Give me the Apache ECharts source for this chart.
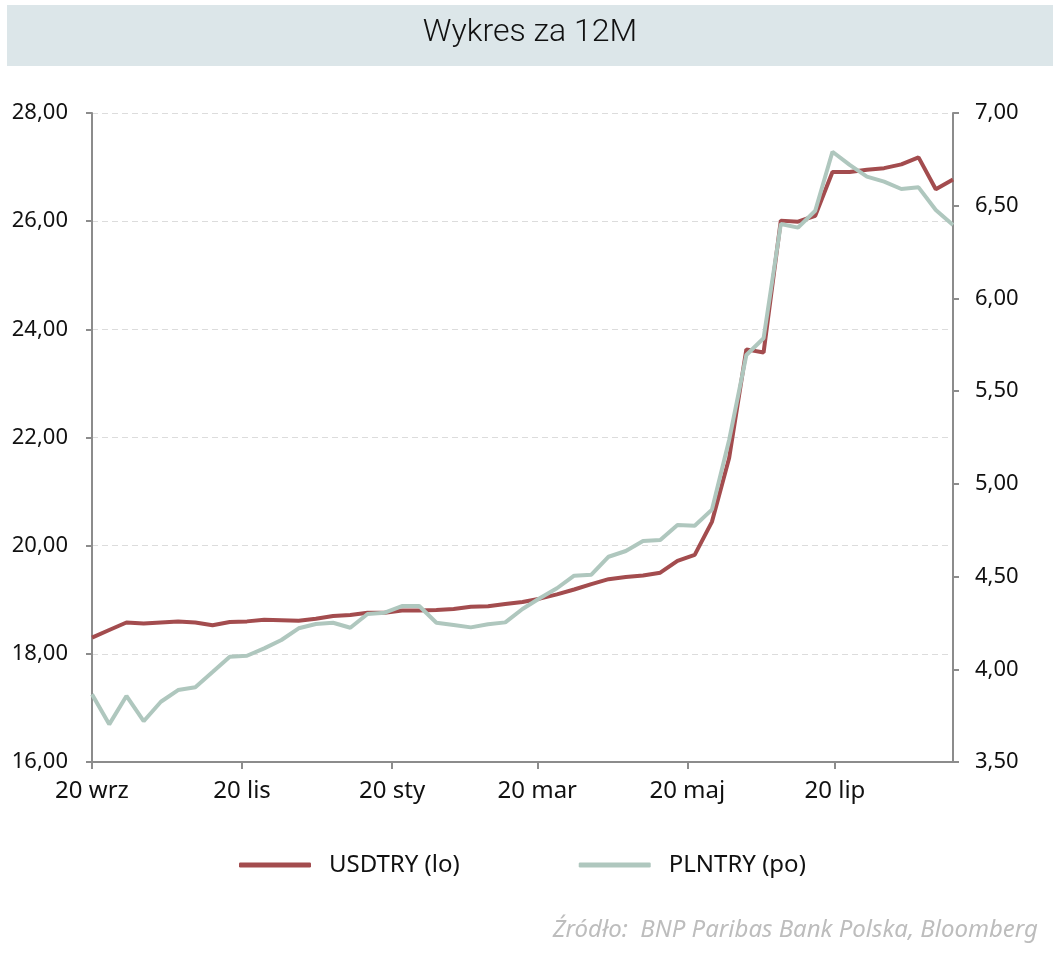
<!DOCTYPE html>
<html>
<head>
<meta charset="utf-8">
<script src="https://cdn.jsdelivr.net/npm/echarts@6/dist/echarts.min.js"></script>
<style>
html,body{margin:0;padding:0;background:#fff;}
#chart{width:1058px;height:956px;}
</style>
</head>
<body>
<div id="chart"></div>
<script>
const dates = ['2023-09-20','2023-09-27','2023-10-04','2023-10-11','2023-10-18','2023-10-25','2023-11-01','2023-11-08','2023-11-15','2023-11-22','2023-11-29','2023-12-06','2023-12-13','2023-12-20','2023-12-27','2024-01-03','2024-01-10','2024-01-17','2024-01-24','2024-01-31','2024-02-07','2024-02-14','2024-02-21','2024-02-28','2024-03-06','2024-03-13','2024-03-20','2024-03-27','2024-04-03','2024-04-10','2024-04-17','2024-04-24','2024-05-01','2024-05-08','2024-05-15','2024-05-22','2024-05-29','2024-06-05','2024-06-12','2024-06-19','2024-06-26','2024-07-03','2024-07-10','2024-07-17','2024-07-24','2024-07-31','2024-08-07','2024-08-14','2024-08-21','2024-08-28','2024-09-04'];
const usdtry = [18.30,18.44,18.58,18.56,18.58,18.60,18.58,18.53,18.59,18.60,18.63,18.62,18.61,18.65,18.70,18.72,18.76,18.76,18.80,18.80,18.81,18.83,18.87,18.88,18.92,18.96,19.02,19.10,19.19,19.29,19.38,19.42,19.45,19.50,19.72,19.83,20.44,21.62,23.63,23.57,26.01,25.99,26.10,26.91,26.91,26.95,26.98,27.05,27.18,26.59,26.77];
const plntry = [3.865,3.703,3.856,3.720,3.825,3.888,3.903,3.985,4.068,4.073,4.113,4.158,4.221,4.244,4.251,4.224,4.298,4.305,4.341,4.341,4.251,4.239,4.226,4.243,4.253,4.325,4.383,4.437,4.505,4.510,4.607,4.638,4.692,4.697,4.778,4.774,4.861,5.237,5.695,5.785,6.401,6.382,6.473,6.791,6.720,6.657,6.630,6.590,6.599,6.477,6.396];
const tickDays = [0,61,122,181,242,302];
const tickLabels = ['20 wrz','20 lis','20 sty','20 mar','20 maj','20 lip'];
const seriesNames = ['USDTRY (lo)','PLNTRY (po)'];
const titleText = 'Wykres za 12M';
const sourceText = 'Źródło:  BNP Paribas Bank Polska, Bloomberg';

const DAY = 86400000;
const t0 = Date.parse(dates[0]);
const xs = dates.map(d => Math.round((Date.parse(d) - t0) / DAY));
const xMax = xs[xs.length - 1];
const fmt = v => v.toFixed(2).replace('.', ',');
const FONT = "'Noto Sans', 'Open Sans', sans-serif";
const axisCol = '#8c8c8c';

const chart = echarts.init(document.getElementById('chart'), null, {renderer: 'canvas'});
chart.setOption({
  animation: false,
  backgroundColor: '#ffffff',
  graphic: [
    {type: 'rect', left: 7, top: 5, shape: {width: 1046, height: 61}, style: {fill: '#dce6e9'}, silent: true},
    {type: 'text', x: 530, y: 33, style: {text: titleText, align: 'center', verticalAlign: 'middle', fontSize: 32, fontFamily: "'Roboto', sans-serif", fontWeight: 300, fill: '#111'}},
    {type: 'text', x: 1038, y: 930, style: {text: sourceText, align: 'right', verticalAlign: 'middle', fontSize: 24, fontStyle: 'italic', fontFamily: FONT, fill: '#bdbdbd'}}
  ],
  grid: {left: 92, right: 105, top: 113, bottom: 194, containLabel: false},
  legend: {
    left: 234, top: 848,
    itemWidth: 72, itemHeight: 5, itemGap: 119,
    icon: 'roundRect',
    textStyle: {fontSize: 24, fontFamily: FONT, color: '#111', padding: [0, 0, 0, 13]},
    data: seriesNames
  },
  xAxis: {
    type: 'value', min: 0, max: xMax,
    axisLine: {show: true, lineStyle: {color: axisCol, width: 2}},
    axisTick: {show: true, length: 7, lineStyle: {color: axisCol, width: 2}, customValues: tickDays},
    axisLabel: {customValues: tickDays, margin: 17, fontSize: 24, fontFamily: FONT, color: '#111',
      formatter: v => { const k = tickDays.indexOf(Math.round(v)); return k >= 0 ? tickLabels[k] : ''; }},
    splitLine: {show: false}
  },
  yAxis: [
    {
      type: 'value', min: 16, max: 28, interval: 2, position: 'left',
      axisLine: {show: true, lineStyle: {color: axisCol, width: 2}},
      axisTick: {show: true, length: 6, lineStyle: {color: axisCol, width: 2}},
      axisLabel: {margin: 24, fontSize: 22, fontFamily: FONT, color: '#111', formatter: fmt},
      splitLine: {show: true, lineStyle: {color: '#dcdcdc', type: [6, 4], width: 1}}
    },
    {
      type: 'value', min: 3.5, max: 7, interval: 0.5, position: 'right',
      axisLine: {show: true, lineStyle: {color: axisCol, width: 2}},
      axisTick: {show: true, length: 6, lineStyle: {color: axisCol, width: 2}},
      axisLabel: {margin: 22, fontSize: 22, fontFamily: FONT, color: '#111', formatter: fmt},
      splitLine: {show: false}
    }
  ],
  series: [
    {name: seriesNames[0], type: 'line', yAxisIndex: 0, symbol: 'none',
     data: xs.map((x, i) => [x, usdtry[i]]),
     itemStyle: {color: '#a34c4e'}, lineStyle: {color: '#a34c4e', width: 4}},
    {name: seriesNames[1], type: 'line', yAxisIndex: 1, symbol: 'none',
     data: xs.map((x, i) => [x, plntry[i]]),
     itemStyle: {color: '#afc7be'}, lineStyle: {color: '#afc7be', width: 4}}
  ]
});
</script>
</body>
</html>
